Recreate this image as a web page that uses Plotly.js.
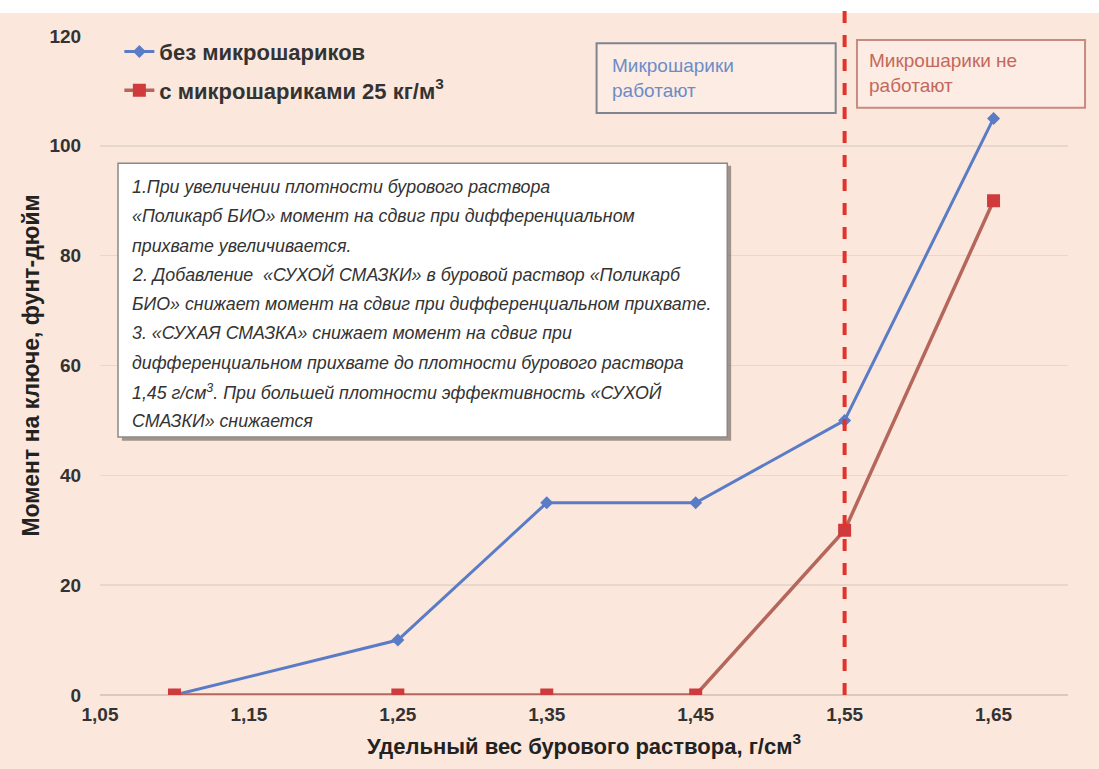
<!DOCTYPE html>
<html>
<head>
<meta charset="utf-8">
<script src="https://cdn.plot.ly/plotly-3.0.1.min.js"></script>
<style>html,body{margin:0;padding:0;background:#fff;}#chart{width:1099px;height:769px;}</style>
</head>
<body>
<div id="chart"></div>
<script>
// Data
const density = [1.10, 1.25, 1.35, 1.45, 1.55, 1.65];
const withoutSpheres = [0, 10, 35, 35, 50, 105];
const withSpheres = [0, 0, 0, 0, 30, 90];
const seriesNames = ['без микрошариков', 'с микрошариками 25 кг/м<sup>3</sup>'];
const xTicks = [1.05, 1.15, 1.25, 1.35, 1.45, 1.55, 1.65];
const yTicks = [0, 20, 40, 60, 80, 100, 120];
const thresholdDensity = 1.55;
const noteLines = [
  '1.При увеличении плотности бурового раствора',
  '«Поликарб БИО» момент на сдвиг при дифференциальном',
  'прихвате увеличивается.',
  '2. Добавление  «СУХОЙ СМАЗКИ» в буровой раствор «Поликарб',
  'БИО» снижает момент на сдвиг при дифференциальном прихвате.',
  '3. «СУХАЯ СМАЗКА» снижает момент на сдвиг при',
  'дифференциальном прихвате до плотности бурового раствора',
  '1,45 г/см<sup>3</sup>. При большей плотности эффективность «СУХОЙ',
  'СМАЗКИ» снижается'
];
const boxWork = 'Микрошарики<br>работают';
const boxNoWork = 'Микрошарики не<br>работают';

const NARROW = '"Liberation Sans Narrow", "Arial Narrow", "Liberation Sans", Arial, sans-serif';
const BG = '#fbe7db';

const traces = [
  {
    x: density, y: withoutSpheres, name: seriesNames[0], type: 'scatter', mode: 'lines+markers',
    legendgroup: 'a',
    line: {color: '#5a7cc6', width: 3},
    marker: {symbol: 'diamond', size: 10, color: '#5a7cc6'}
  },
  {
    x: density, y: withSpheres, name: seriesNames[1], type: 'scatter', mode: 'lines+markers',
    legendgroup: 'b',
    line: {color: '#b5675c', width: 3.5},
    marker: {symbol: 'square', size: 13, color: '#cf3a3c'}
  }
];

const annotations = [];
const lineTop = 0.807 - 0.036;
const lineStep = 29.3 / 659;
noteLines.forEach((t, i) => {
  annotations.push({
    xref: 'paper', yref: 'paper', x: 0.031, y: lineTop - i * lineStep,
    xanchor: 'left', yanchor: 'middle', showarrow: false, align: 'left',
    text: t,
    font: {family: NARROW, size: 17.8, color: '#333', style: 'italic'}
  });
});
annotations.push({
  xref: 'paper', yref: 'paper', x: 0.527, y: 0.936, xanchor: 'left', yanchor: 'middle',
  showarrow: false, align: 'left', text: boxWork,
  font: {family: NARROW, size: 19, color: '#6c8cc8'}
});
annotations.push({
  xref: 'paper', yref: 'paper', x: 0.792, y: 0.944, xanchor: 'left', yanchor: 'middle',
  showarrow: false, align: 'left', text: boxNoWork,
  font: {family: NARROW, size: 19, color: '#c4685c'}
});

const shapes = [
  // white strip at the top of the figure
  {type: 'rect', xref: 'paper', yref: 'paper', x0: -0.2, x1: 1.1, y0: 1.035, y1: 1.2,
   fillcolor: '#ffffff', line: {width: 0}, layer: 'below'},
  // note box shadow
  {type: 'rect', xref: 'paper', yref: 'paper', x0: 0.0226, x1: 0.652, y0: 0.386, y1: 0.803,
   fillcolor: 'rgba(90,80,75,0.55)', line: {width: 0}},
  // note box
  {type: 'rect', xref: 'paper', yref: 'paper', x0: 0.0186, x1: 0.648, y0: 0.3915, y1: 0.807,
   fillcolor: '#ffffff', line: {color: '#8a8a8a', width: 1.5}},
  // "work" box
  {type: 'rect', xref: 'paper', yref: 'paper', x0: 0.513, x1: 0.760, y0: 0.883, y1: 0.989,
   fillcolor: '#fcece3', line: {color: '#7f8590', width: 2}},
  // "don't work" box
  {type: 'rect', xref: 'paper', yref: 'paper', x0: 0.782, x1: 1.0176, y0: 0.891, y1: 0.994,
   fillcolor: '#fcece3', line: {color: '#c98a80', width: 2}},
  // threshold line
  {type: 'line', xref: 'x', yref: 'paper', x0: thresholdDensity, x1: thresholdDensity, y0: 0, y1: 1.038,
   line: {color: '#e3322b', width: 4, dash: 'dash'}}
];

const layout = {
  width: 1099, height: 769,
  paper_bgcolor: BG, plot_bgcolor: BG,
  margin: {l: 100, r: 31, t: 36, b: 74},
  separators: ',.',
  showlegend: true,
  legend: {
    x: 0.02, y: 1.008, xanchor: 'left', yanchor: 'top',
    bgcolor: 'rgba(0,0,0,0)', traceorder: 'grouped', tracegroupgap: 7,
    font: {family: NARROW, size: 22, color: '#333', weight: 'bold'}
  },
  xaxis: {
    range: [1.05, 1.70], tickvals: xTicks, tickformat: '.2f',
    showgrid: false, zeroline: false, showline: false,
    ticks: 'outside', ticklen: 2, tickcolor: 'rgba(0,0,0,0)',
    tickfont: {family: NARROW, size: 19, color: '#333', weight: 'bold'},
    title: {text: 'Удельный вес бурового раствора, г/см<sup>3</sup>', standoff: 14,
            font: {family: NARROW, size: 22, color: '#222', weight: 'bold'}}
  },
  yaxis: {
    range: [0, 120], tickvals: yTicks,
    showgrid: true, gridcolor: '#e7d8ce', gridwidth: 1.5,
    zeroline: true, zerolinecolor: '#d9c9bf', zerolinewidth: 2,
    showline: false, ticks: 'outside', ticklen: 14, tickcolor: 'rgba(0,0,0,0)',
    tickfont: {family: NARROW, size: 19, color: '#333', weight: 'bold'},
    title: {text: 'Момент на ключе, фунт-дюйм', standoff: 3,
            font: {family: NARROW, size: 23, color: '#222', weight: 'bold'}}
  },
  shapes: shapes,
  annotations: annotations
};

Plotly.newPlot('chart', traces, layout, {displayModeBar: false, staticPlot: true});
</script>
</body>
</html>
